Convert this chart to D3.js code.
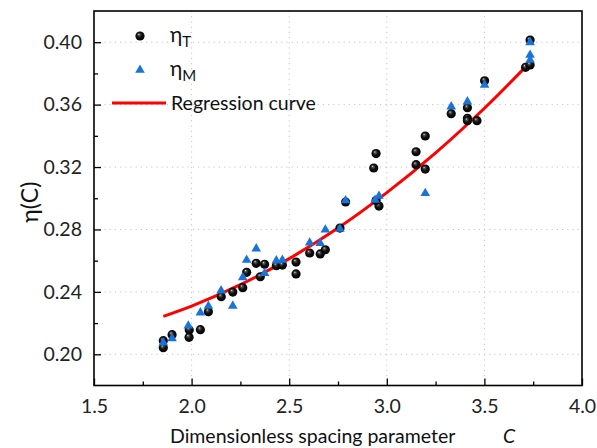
<!DOCTYPE html>
<html lang="en">
<head>
<meta charset="utf-8">
<title>eta(C) scatter with regression curve</title>
<script src="https://d3js.org/d3.v7.min.js"></script>
<style>
  body { margin: 0; background: #fff; }
  text { font-family: Lato, "Open Sans", sans-serif; }
</style>
</head>
<body>
<script>
// eta_T (black spheres)
var cT   = [1.855, 1.855, 1.90, 1.988, 1.987, 2.045, 2.086, 2.152, 2.211, 2.262, 2.282, 2.331, 2.352, 2.374,
            2.434, 2.465, 2.535, 2.535, 2.605, 2.659, 2.685, 2.760, 2.789, 2.933, 2.945, 2.960, 2.945,
            3.150, 3.150, 3.197, 3.197, 3.330, 3.413, 3.413, 3.413, 3.462, 3.501, 3.711, 3.734, 3.734];
var etaT = [0.2087, 0.2042, 0.2126, 0.2156, 0.2109, 0.2158, 0.2273, 0.2369, 0.2399, 0.2427, 0.2525, 0.2583, 0.2497, 0.2577,
            0.2568, 0.2572, 0.2591, 0.2515, 0.2649, 0.2643, 0.2670, 0.2809, 0.2976, 0.3194, 0.3286, 0.2950, 0.2985,
            0.3298, 0.3215, 0.3399, 0.3187, 0.3542, 0.3580, 0.3512, 0.3497, 0.3497, 0.3753, 0.3839, 0.4014, 0.3854];

// eta_M (blue triangles)
var cM   = [1.855, 1.90, 1.983, 2.045, 2.086, 2.151, 2.211, 2.262, 2.282, 2.331, 2.374, 2.434, 2.465, 2.605,
            2.659, 2.685, 2.760, 2.789, 2.940, 2.960, 3.197, 3.330, 3.413, 3.501, 3.734, 3.734, 3.734];
var etaM = [0.2074, 0.2102, 0.2183, 0.2267, 0.2309, 0.2408, 0.2310, 0.2493, 0.2604, 0.2677, 0.2519, 0.2600, 0.2604, 0.2715,
            0.2711, 0.2798, 0.2803, 0.2985, 0.2989, 0.3014, 0.3032, 0.3587, 0.3619, 0.3726, 0.3999, 0.3918, 0.3886];

// regression curve
var cFit   = [1.855, 2.0, 2.25, 2.5, 2.75, 3.0, 3.25, 3.5, 3.73];
var etaFit = [0.2243, 0.2309, 0.2446, 0.2613, 0.2809, 0.3036, 0.3291, 0.3577, 0.3866];

var xTicks = [1.5, 2.0, 2.5, 3.0, 3.5, 4.0];
var yTicks = [0.20, 0.24, 0.28, 0.32, 0.36, 0.40];

var W = 597, H = 448;
var pL = 94, pR = 582, pT = 11, pB = 385.5;

var svg = d3.select("body").append("svg")
    .attr("width", W).attr("height", H);

var defs = svg.append("defs");
var grad = defs.append("radialGradient").attr("id", "ball")
    .attr("cx", "50%").attr("cy", "50%").attr("r", "55%")
    .attr("fx", "36%").attr("fy", "30%");
grad.append("stop").attr("offset", "0%").attr("stop-color", "#f0f0f0");
grad.append("stop").attr("offset", "18%").attr("stop-color", "#555");
grad.append("stop").attr("offset", "50%").attr("stop-color", "#111");
grad.append("stop").attr("offset", "100%").attr("stop-color", "#000");

var x = d3.scaleLinear().domain([1.5, 4.0]).range([pL, pR]);
var y = d3.scaleLinear().domain([0.18, 0.42]).range([pB, pT]);

// grid
svg.append("g").selectAll("line")
    .data(xTicks.slice(1, -1)).enter().append("line")
    .attr("x1", function(d){ return x(d); }).attr("x2", function(d){ return x(d); })
    .attr("y1", pT).attr("y2", pB)
    .attr("stroke", "#c4c4c4").attr("stroke-dasharray", "1.2,4");
svg.append("g").selectAll("line")
    .data(yTicks).enter().append("line")
    .attr("y1", function(d){ return y(d); }).attr("y2", function(d){ return y(d); })
    .attr("x1", pL).attr("x2", pR)
    .attr("stroke", "#c4c4c4").attr("stroke-dasharray", "1.2,4");

// axes, ticks pointing inward
var xAxis = svg.append("g").attr("transform", "translate(0," + pB + ")")
    .call(d3.axisBottom(x).tickValues(xTicks).tickFormat(d3.format(".1f")).tickSizeInner(-7).tickSizeOuter(0).tickPadding(14));
var xMinor = svg.append("g").attr("transform", "translate(0," + pB + ")")
    .call(d3.axisBottom(x).tickValues([1.75, 2.25, 2.75, 3.25, 3.75]).tickFormat("").tickSizeInner(-4).tickSizeOuter(0));
var yAxis = svg.append("g").attr("transform", "translate(" + pL + ",0)")
    .call(d3.axisLeft(y).tickValues(yTicks).tickFormat(d3.format(".2f")).tickSizeInner(-7).tickSizeOuter(0).tickPadding(12));
var yMinor = svg.append("g").attr("transform", "translate(" + pL + ",0)")
    .call(d3.axisLeft(y).tickValues([0.22, 0.26, 0.30, 0.34, 0.38]).tickFormat("").tickSizeInner(-4).tickSizeOuter(0));

[xAxis, xMinor, yAxis, yMinor].forEach(function(g){
    g.select(".domain").remove();
    g.selectAll(".tick line").attr("stroke", "#000").attr("stroke-width", 1.3);
    g.selectAll("text").attr("font-size", "19.5px").attr("fill", "#222")
        .attr("font-family", "Lato, 'Open Sans', sans-serif");
});

// frame
svg.append("rect")
    .attr("x", pL).attr("y", pT)
    .attr("width", pR - pL).attr("height", pB - pT)
    .attr("fill", "none").attr("stroke", "#000").attr("stroke-width", 1.6);

// regression curve
var fitData = cFit.map(function(c, i){ return [c, etaFit[i]]; });
svg.append("path")
    .datum(fitData)
    .attr("d", d3.line().x(function(d){ return x(d[0]); }).y(function(d){ return y(d[1]); }).curve(d3.curveMonotoneX))
    .attr("fill", "none").attr("stroke", "#ff0000").attr("stroke-width", 3);

// eta_T spheres
var tData = cT.map(function(c, i){ return [c, etaT[i]]; });
svg.append("g").selectAll("circle")
    .data(tData).enter().append("circle")
    .attr("cx", function(d){ return x(d[0]); })
    .attr("cy", function(d){ return y(d[1]); })
    .attr("r", 4.6)
    .attr("fill", "url(#ball)");

// eta_M triangles
var tri = d3.symbol().type(d3.symbolTriangle).size(40);
var mData = cM.map(function(c, i){ return [c, etaM[i]]; });
svg.append("g").selectAll("path")
    .data(mData).enter().append("path")
    .attr("d", tri)
    .attr("transform", function(d){ return "translate(" + x(d[0]) + "," + y(d[1]) + ")"; })
    .attr("fill", "#1a73d9");

// legend
var lg = svg.append("g");
lg.append("circle").attr("cx", 140).attr("cy", 36).attr("r", 4.6).attr("fill", "url(#ball)");
lg.append("path").attr("d", tri).attr("transform", "translate(140,70)").attr("fill", "#1a73d9");
lg.append("line").attr("x1", 112).attr("x2", 166).attr("y1", 103).attr("y2", 103)
    .attr("stroke", "#ff0000").attr("stroke-width", 3);

var t1 = lg.append("text").attr("x", 170).attr("y", 42).attr("font-size", "21px").attr("fill", "#111");
t1.append("tspan").text("η");
t1.append("tspan").attr("dy", 5).attr("font-size", "15px").text("T");
var t2 = lg.append("text").attr("x", 170).attr("y", 76).attr("font-size", "21px").attr("fill", "#111");
t2.append("tspan").text("η");
t2.append("tspan").attr("dy", 5).attr("font-size", "15px").text("M");
lg.append("text").attr("x", 171).attr("y", 110).attr("font-size", "19.5px").attr("fill", "#111")
    .text("Regression curve");

// axis titles
var xt = svg.append("text")
    .attr("x", 170).attr("y", 443)
    .attr("font-size", "19.5px").attr("fill", "#111");
xt.append("tspan").text("Dimensionless spacing parameter");
xt.append("tspan").attr("x", 503).attr("font-style", "italic").text("C");

svg.append("text")
    .attr("transform", "translate(38," + ((pT + pB) / 2 + 4) + ") rotate(-90)")
    .attr("text-anchor", "middle").attr("font-size", "23px").attr("fill", "#111")
    .text("η(C)");
</script>
</body>
</html>
